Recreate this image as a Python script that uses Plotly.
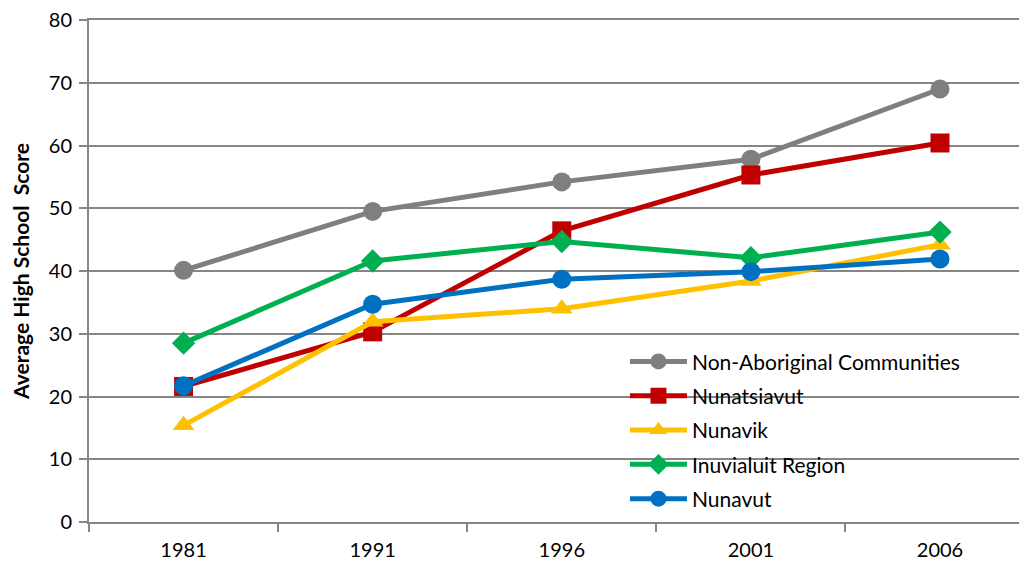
import plotly.graph_objects as go

years = ["1981", "1991", "1996", "2001", "2006"]
non_aboriginal = [40.1, 49.5, 54.2, 57.8, 69.0]
nunatsiavut = [21.6, 30.3, 46.4, 55.3, 60.4]
nunavik = [15.4, 31.9, 34.0, 38.4, 44.2]
inuvialuit = [28.5, 41.6, 44.7, 42.1, 46.2]
nunavut = [21.7, 34.7, 38.7, 39.9, 41.9]

series = [
    ("Non-Aboriginal Communities", non_aboriginal, "#7F7F7F", "circle"),
    ("Nunatsiavut", nunatsiavut, "#C00000", "square"),
    ("Nunavik", nunavik, "#FFC000", "triangle-up"),
    ("Inuvialuit Region", inuvialuit, "#00B050", "diamond"),
    ("Nunavut", nunavut, "#0070C0", "circle"),
]

fig = go.Figure()
for i, (name, vals, color, sym) in enumerate(series):
    fig.add_trace(go.Scatter(
        x=years, y=vals, name=name, mode="lines+markers",
        legendgroup=f"g{i}",
        line=dict(color=color, width=5),
        marker=dict(color=color, symbol=sym, size=19 if sym != "diamond" else 18,
                    line=dict(width=0)),
    ))

font = "Lato, 'Open Sans', sans-serif"
# page body has an 8px margin, so the figure is shifted by 8px
fig.update_layout(
    width=1019, height=558,
    margin=dict(l=81, r=0, t=12, b=44),
    paper_bgcolor="white", plot_bgcolor="white",
    font=dict(family=font, size=20, color="#000000"),
    showlegend=True,
    legend=dict(
        x=0.5714, y=0.360, xanchor="left", yanchor="top",
        bgcolor="rgba(0,0,0,0)", borderwidth=0,
        font=dict(family=font, size=21, color="#000000"),
        itemwidth=57, tracegroupgap=4,
    ),
    shapes=[dict(
        type="rect", xref="paper", yref="paper",
        x0=(568 - 89) / 938, x1=1.0, y0=(522 - 512) / 502, y1=(522 - 338) / 502,
        fillcolor="white", line=dict(width=0), layer="between",
    )],
    xaxis=dict(
        type="category", range=[-0.5, 4.46], automargin=False,
        showline=True, linecolor="#868686", linewidth=2, mirror=True,
        ticks="outside", tickson="boundaries", ticklen=8,
        tickcolor="#868686", tickwidth=2,
        showgrid=False, tickfont=dict(size=20), ticklabelstandoff=9,
    ),
    yaxis=dict(
        range=[0, 80], dtick=10, tick0=0, automargin=False,
        showline=True, linecolor="#868686", linewidth=2,
        ticks="outside", ticklen=8, tickcolor="#868686", tickwidth=2,
        showgrid=True, gridcolor="#868686", gridwidth=2,
        zeroline=False, tickfont=dict(size=20), ticklabelstandoff=3,
        ticklabeloverflow="allow",
        title=dict(text="<b>Average High School  Score</b>", font=dict(size=21), standoff=18),
    ),
)

fig.write_html("out.html")
